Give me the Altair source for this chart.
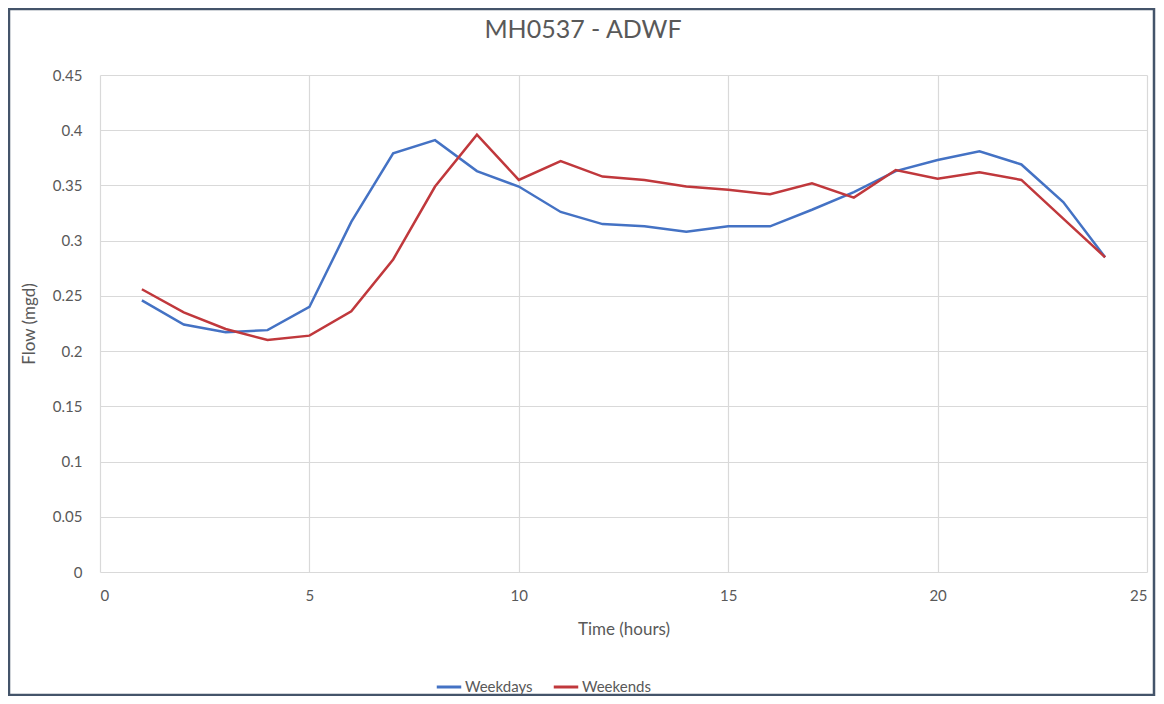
import altair as alt
import pandas as pd

chart_title = "MH0537 - ADWF"
hours = list(range(1, 25))
weekdays = [0.246, 0.224, 0.217, 0.219, 0.240, 0.317, 0.379, 0.391, 0.363, 0.349,
            0.326, 0.315, 0.313, 0.308, 0.313, 0.313, 0.328, 0.344, 0.363, 0.373,
            0.381, 0.369, 0.335, 0.285]
weekends = [0.256, 0.235, 0.220, 0.210, 0.214, 0.236, 0.283, 0.349, 0.396, 0.355,
            0.372, 0.358, 0.355, 0.349, 0.346, 0.342, 0.352, 0.339, 0.364, 0.356,
            0.362, 0.355, 0.320, 0.285]
series_names = ["Weekdays", "Weekends"]
series_colors = ["#4472C4", "#C0383C"]

rows = []
for h, a, b in zip(hours, weekdays, weekends):
    rows.append({"hour": h, "flow": a, "series": series_names[0]})
    rows.append({"hour": h, "flow": b, "series": series_names[1]})
df = pd.DataFrame(rows)

FONT = "Lato"
GREY = "#595959"

lines = alt.Chart(df).mark_line(strokeWidth=2.5, clip=False).encode(
    x=alt.X("hour:Q", scale=alt.Scale(domain=[0, 25], nice=False, zero=True),
            axis=alt.Axis(values=[0, 5, 10, 15, 20, 25], title="Time (hours)",
                          grid=True, ticks=False, domain=False, labelPadding=16,
                          titlePadding=18)),
    y=alt.Y("flow:Q", scale=alt.Scale(domain=[0, 0.45], nice=False),
            axis=alt.Axis(values=[0, 0.05, 0.1, 0.15, 0.2, 0.25, 0.3, 0.35, 0.4, 0.45],
                          format="~g", title="Flow (mgd)", grid=True, ticks=False,
                          domain=False, labelPadding=18, titlePadding=14)),
    color=alt.Color("series:N", scale=alt.Scale(domain=series_names, range=series_colors),
                    legend=alt.Legend(title=None, orient="none", direction="horizontal",
                                      legendX=335, legendY=598, symbolType="stroke",
                                      symbolStrokeWidth=3, symbolSize=600,
                                      labelFontSize=15, labelColor=GREY, labelFont=FONT,
                                      columnPadding=14, labelOffset=2)),
)

frame = alt.Chart(pd.DataFrame({"k": [0]})).mark_rect(
    fill=None, stroke="#44546A", strokeWidth=2.5, clip=False
).encode(x=alt.value(-91), x2=alt.value(1054), y=alt.value(-66), y2=alt.value(620))

title_text = alt.Chart(pd.DataFrame({"t": [chart_title]})).mark_text(
    font=FONT, fontSize=25, color=GREY, align="center", baseline="middle", clip=False
).encode(text="t:N", x=alt.value(483), y=alt.value(-45))

chart = alt.layer(frame, lines, title_text).properties(
    width=1047, height=497,
    background="white",
    autosize=alt.AutoSizeParams(type="none"),
    padding={"left": 92, "top": 67, "right": 9, "bottom": 124},
).configure_view(stroke=None).configure_axis(
    gridColor="#D9D9D9", gridWidth=1.2, labelFont=FONT, labelFontSize=15,
    labelColor=GREY, titleFont=FONT, titleFontSize=17, titleColor=GREY,
    titleFontWeight="normal",
)

chart.save("out.html", embed_options={"renderer": "svg", "actions": False})
